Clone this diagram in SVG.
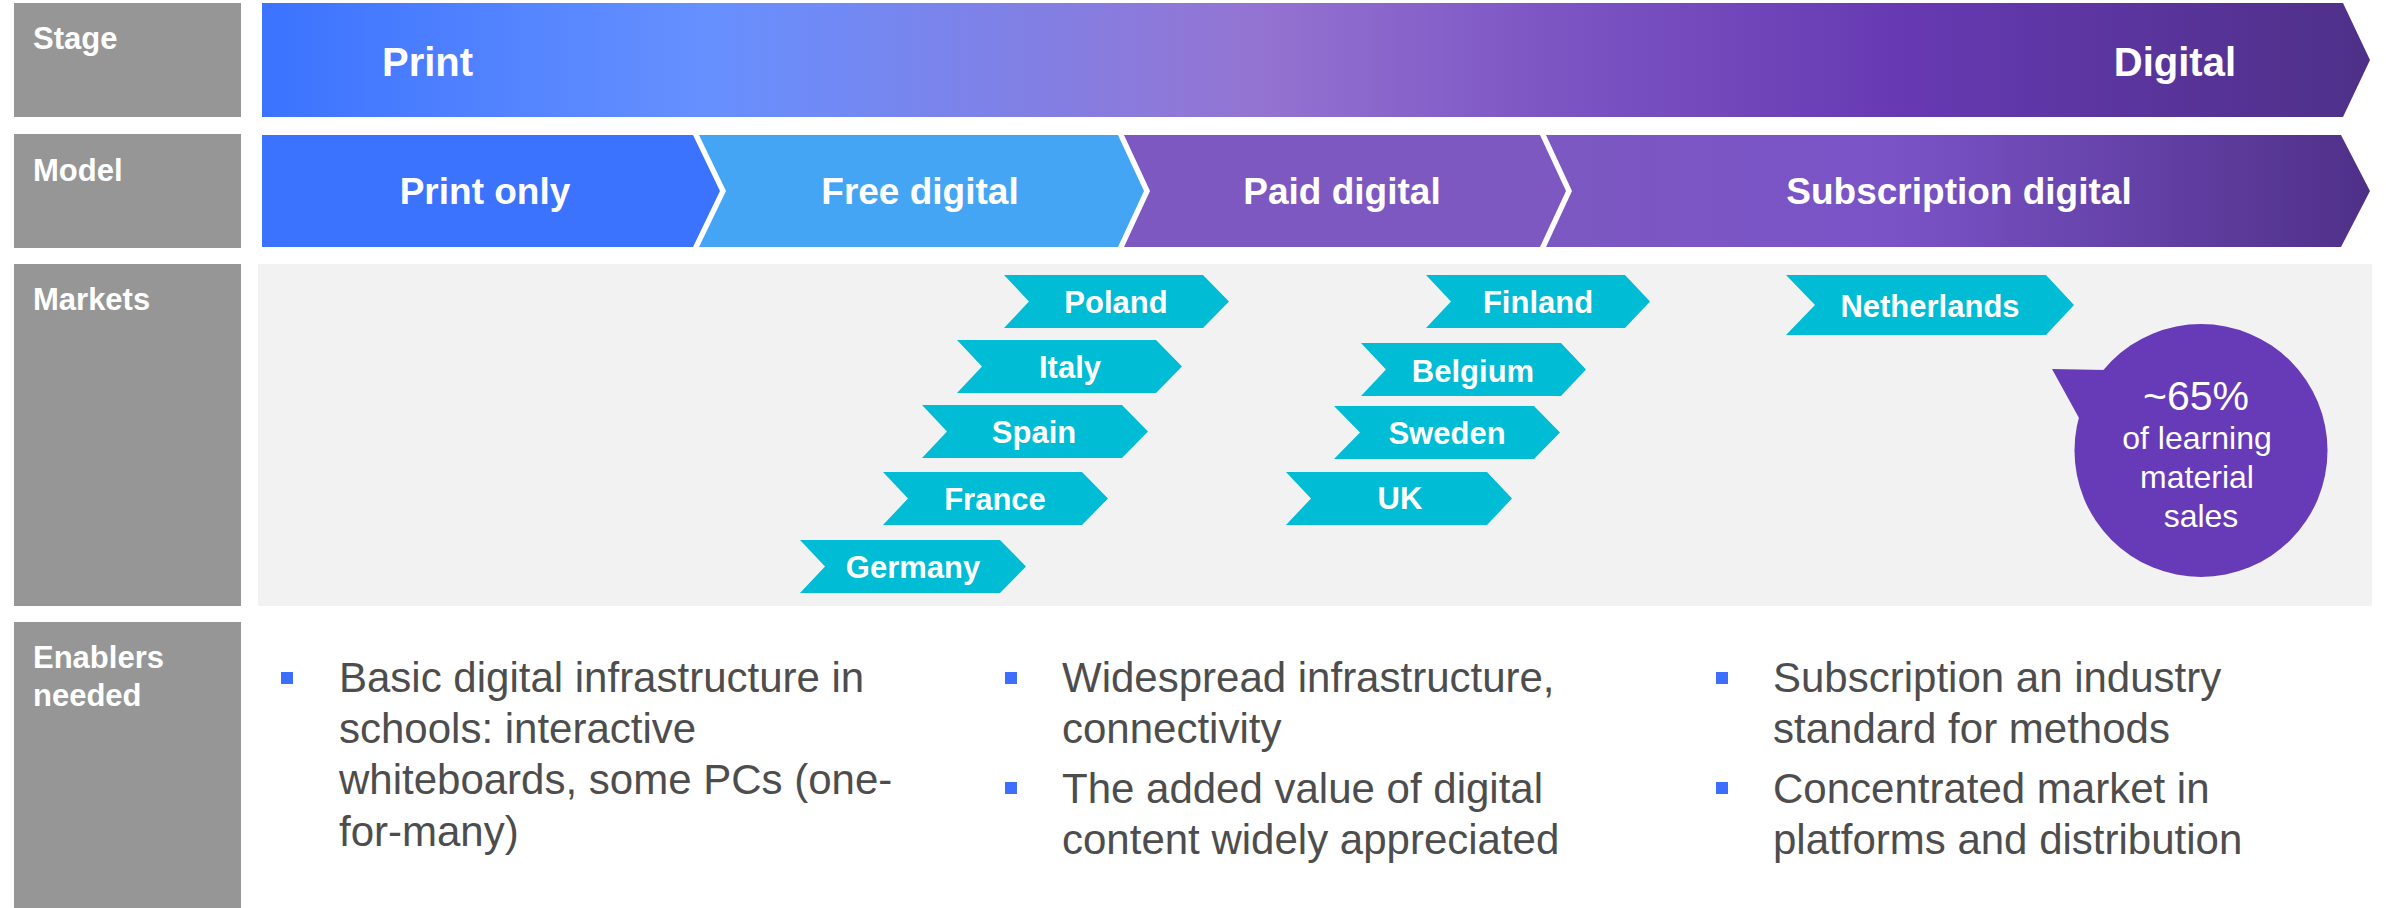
<svg xmlns="http://www.w3.org/2000/svg" width="2386" height="908" viewBox="0 0 2386 908">
<defs>
<linearGradient id="gStage" gradientUnits="userSpaceOnUse" x1="262" y1="0" x2="2370" y2="0">
<stop offset="0" stop-color="#3B73FF"/>
<stop offset="0.21" stop-color="#6690FF"/>
<stop offset="0.47" stop-color="#9474D2"/>
<stop offset="0.61" stop-color="#7D55C3"/>
<stop offset="0.78" stop-color="#6639B2"/>
<stop offset="1" stop-color="#4E3088"/>
</linearGradient>
<linearGradient id="gSub" gradientUnits="userSpaceOnUse" x1="1546" y1="0" x2="2370" y2="0">
<stop offset="0" stop-color="#7C58C2"/>
<stop offset="0.42" stop-color="#7A53C7"/>
<stop offset="1" stop-color="#4F3088"/>
</linearGradient>
</defs>
<style>
.lbl{fill:#969696}
.lt{font-family:"Liberation Sans",Arial,sans-serif;font-weight:bold;font-size:31px;fill:#FFFFFF}
.st{font-family:"Liberation Sans",Arial,sans-serif;font-weight:bold;font-size:40px;fill:#FFFFFF}
.mt{font-family:"Liberation Sans",Arial,sans-serif;font-weight:bold;font-size:37px;fill:#FFFFFF;text-anchor:middle}
.tag{fill:#00BCD4}
.tt{font-family:"Liberation Sans",Arial,sans-serif;font-weight:bold;font-size:31px;fill:#FFFFFF;text-anchor:middle}
.bt{font-family:"Liberation Sans",Arial,sans-serif;font-size:32px;fill:#FFFFFF;text-anchor:middle}
.bt.big{font-size:41px}
.et{font-family:"Liberation Sans",Arial,sans-serif;font-size:42px;fill:#4D4D4D}
.bul{fill:#3D6EFF}
</style>
<rect x="0" y="0" width="2386" height="908" fill="#FFFFFF"/>

<g id="row-labels">
<g id="label-stage"><rect class="lbl" x="14" y="3" width="227" height="114"/><text class="lt" x="33" y="49">Stage</text></g>
<g id="label-model"><rect class="lbl" x="14" y="134" width="227" height="114"/><text class="lt" x="33" y="181">Model</text></g>
<g id="label-markets"><rect class="lbl" x="14" y="264" width="227" height="342"/><text class="lt" x="33" y="310">Markets</text></g>
<g id="label-enablers"><rect class="lbl" x="14" y="622" width="227" height="286"/><text class="lt" x="33" y="668">Enablers</text><text class="lt" x="33" y="706">needed</text></g>
</g>

<g id="stage-bar">
<polygon points="262,3 2343,3 2370,60 2343,117 262,117" fill="url(#gStage)"/>
<text class="st" x="382" y="76">Print</text>
<text class="st" x="2236" y="76" text-anchor="end">Digital</text>
</g>

<g id="model-print-only">
<polygon points="262,135 693,135 720,191 693,247 262,247" fill="#3B73FF"/>
<text class="mt" x="485" y="204">Print only</text>
</g>
<g id="model-free-digital">
<polygon points="699,135 1118,135 1144,191 1118,247 699,247 726,191" fill="#45A5F5"/>
<text class="mt" x="920" y="204">Free digital</text>
</g>
<g id="model-paid-digital">
<polygon points="1124,135 1540,135 1566,191 1540,247 1124,247 1150,191" fill="#7D58C0"/>
<text class="mt" x="1342" y="204">Paid digital</text>
</g>
<g id="model-subscription-digital">
<polygon points="1546,135 2341,135 2370,191 2341,247 1546,247 1572,191" fill="url(#gSub)"/>
<text class="mt" x="1959" y="204">Subscription digital</text>
</g>

<g id="markets-panel">
<rect x="258" y="264" width="2114" height="342" fill="#F2F2F2"/>
</g>

<g id="tag-poland"><polygon class="tag" points="1004,275 1203,275 1229,301.5 1203,328 1004,328 1029,301.5"/><text class="tt" x="1116" y="313">Poland</text></g>
<g id="tag-italy"><polygon class="tag" points="957,340 1156,340 1182,366.5 1156,393 957,393 982,366.5"/><text class="tt" x="1070" y="378">Italy</text></g>
<g id="tag-spain"><polygon class="tag" points="922,405 1122,405 1148,431.5 1122,458 922,458 947,431.5"/><text class="tt" x="1034" y="443">Spain</text></g>
<g id="tag-france"><polygon class="tag" points="883,472 1082,472 1108,498.5 1082,525 883,525 908,498.5"/><text class="tt" x="995" y="510">France</text></g>
<g id="tag-germany"><polygon class="tag" points="800,540 1000,540 1026,566.5 1000,593 800,593 825,566.5"/><text class="tt" x="913" y="578">Germany</text></g>
<g id="tag-finland"><polygon class="tag" points="1426,275 1625,275 1650,301.5 1625,328 1426,328 1451,301.5"/><text class="tt" x="1538" y="313">Finland</text></g>
<g id="tag-belgium"><polygon class="tag" points="1361,343 1561,343 1586,369.5 1561,396 1361,396 1386,369.5"/><text class="tt" x="1473" y="382">Belgium</text></g>
<g id="tag-sweden"><polygon class="tag" points="1334,406 1534,406 1560,432.5 1534,459 1334,459 1360,432.5"/><text class="tt" x="1447" y="444">Sweden</text></g>
<g id="tag-uk"><polygon class="tag" points="1286,472 1487,472 1512,498.5 1487,525 1286,525 1311,498.5"/><text class="tt" x="1400" y="509">UK</text></g>
<g id="tag-netherlands"><polygon class="tag" points="1786,275 2046,275 2074,305 2046,335 1786,335 1815,305"/><text class="tt" x="1930" y="317">Netherlands</text></g>

<g id="callout-65">
<circle cx="2201" cy="450.5" r="126.5" fill="#673AB7"/>
<polygon points="2052,369 2106,370 2079,418" fill="#673AB7"/>
<text class="bt big" x="2196" y="410">~65%</text>
<text class="bt" x="2197" y="449">of learning</text>
<text class="bt" x="2197" y="488">material</text>
<text class="bt" x="2201" y="527">sales</text>
</g>

<g id="enablers-print">
<rect class="bul" x="281" y="672" width="12" height="12"/>
<text class="et" x="339" y="692">Basic digital infrastructure in</text>
<text class="et" x="339" y="743">schools: interactive</text>
<text class="et" x="339" y="794">whiteboards, some PCs (one-</text>
<text class="et" x="339" y="846">for-many)</text>
</g>
<g id="enablers-free-paid">
<rect class="bul" x="1005" y="672" width="12" height="12"/>
<text class="et" x="1062" y="692">Widespread infrastructure,</text>
<text class="et" x="1062" y="743">connectivity</text>
<rect class="bul" x="1005" y="782" width="12" height="12"/>
<text class="et" x="1062" y="803">The added value of digital</text>
<text class="et" x="1062" y="854">content widely appreciated</text>
</g>
<g id="enablers-subscription">
<rect class="bul" x="1716" y="672" width="12" height="12"/>
<text class="et" x="1773" y="692">Subscription an industry</text>
<text class="et" x="1773" y="743">standard for methods</text>
<rect class="bul" x="1716" y="782" width="12" height="12"/>
<text class="et" x="1773" y="803">Concentrated market in</text>
<text class="et" x="1773" y="854">platforms and distribution</text>
</g>

<g id="connectors"></g>
</svg>
